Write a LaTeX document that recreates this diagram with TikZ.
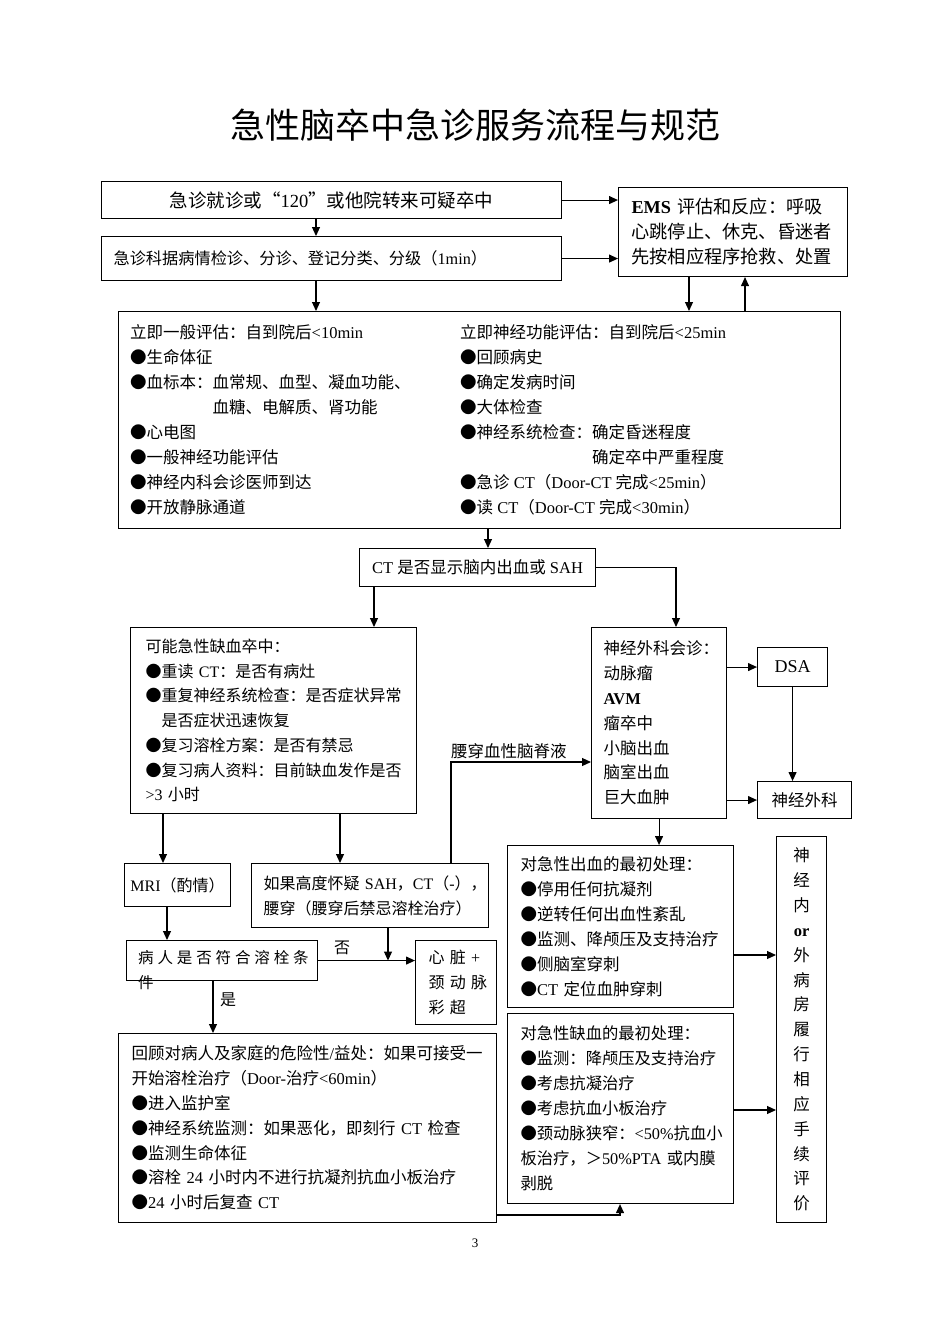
\documentclass[tikz,border=0pt]{standalone}
\usepackage{fontspec}
\setmainfont{Liberation Serif}
\newfontfamily\cjkfont{Noto Sans CJK SC}
\usetikzlibrary{arrows.meta}

% switch to the CJK font for Chinese characters and back for Latin ones
\XeTeXinterchartokenstate=1
\chardef\cjkclass=7
\newcount\cjkcode
\def\setcjkrange#1#2{\cjkcode=#1\relax
  \loop\XeTeXcharclass\cjkcode=\cjkclass\relax
  \ifnum\cjkcode<#2\relax\advance\cjkcode by 1\relax\repeat}
\setcjkrange{"3000}{"303F}
\setcjkrange{"4E00}{"9FFF}
\setcjkrange{"FF00}{"FFEF}
\XeTeXcharclass"25CF=\cjkclass
\XeTeXcharclass"201C=\cjkclass
\XeTeXcharclass"201D=\cjkclass
\XeTeXinterchartoks 0 \cjkclass = {\cjkfont}
\XeTeXinterchartoks 4095 \cjkclass = {\cjkfont}
\XeTeXinterchartoks \cjkclass 0 = {\rmfamily}
\XeTeXinterchartoks \cjkclass 4095 = {\rmfamily}

\tikzset{
    box/.style={draw, line width=1.1pt, rectangle, inner sep=0pt, anchor=north west},
    note/.style={font=\fontsize{16.5}{25}\selectfont, align=left, inner sep=0pt},
    arr/.style={-{Triangle[length=9pt,width=8pt]}, line width=1.1pt}
}

\begin{document}
\begin{tikzpicture}[x=1pt, y=-1pt]
    \useasboundingbox (0,0) rectangle (950,1344);

    \node[font=\fontsize{35}{40}\selectfont] (title) at (475,125) {急性脑卒中急诊服务流程与规范};

    % top part
    \node[box, minimum width=460pt, minimum height=37pt, font=\fontsize{18.5}{22}\selectfont] (visit) at (101,181) {急诊就诊或“120”或他院转来可疑卒中};
    \node[box, note, text width=436pt, inner xsep=12pt, minimum height=44pt, font=\fontsize{16.2}{20}\selectfont] (triage) at (101,236) {急诊科据病情检诊、分诊、登记分类、分级（1min）};
    \node[box, note, text width=203pt, inner xsep=13pt, minimum height=89pt, font=\fontsize{18.2}{25}\selectfont] (ems) at (618,187) {\textbf{EMS}~评估和反应：呼吸\\心跳停止、休克、昏迷者\\先按相应程序抢救、处置};

    \node[box, minimum width=722pt, minimum height=217pt] (eval) at (118,311) {};
    \node[note, anchor=west] (evalL) at ([xshift=12pt]eval.west) {立即一般评估：自到院后<10min\\●生命体征\\●血标本：血常规、血型、凝血功能、\\\hspace*{5em}血糖、电解质、肾功能\\●心电图\\●一般神经功能评估\\●神经内科会诊医师到达\\●开放静脉通道};
    \node[note, anchor=west] (evalR) at ([xshift=342pt]eval.west) {立即神经功能评估：自到院后<25min\\●回顾病史\\●确定发病时间\\●大体检查\\●神经系统检查：确定昏迷程度\\\hspace*{8em}确定卒中严重程度\\●急诊~CT（\mbox{Door-CT}~完成<25min）\\●读~CT（\mbox{Door-CT}~完成<30min）};

    \node[box, minimum width=236pt, minimum height=38pt, font=\fontsize{16.5}{20}\selectfont] (ctq) at (359,548) {CT~是否显示脑内出血或~SAH};

    % middle part
    \node[box, note, text width=256pt, inner xsep=15pt, minimum height=186pt, font=\fontsize{16}{24.67}\selectfont] (isch) at (130,627) {可能急性缺血卒中：\\●重读~CT：是否有病灶\\●重复神经系统检查：是否症状异常\\\hspace*{1em}是否症状迅速恢复\\●复习溶栓方案：是否有禁忌\\●复习病人资料：目前缺血发作是否\\>3~小时};
    \node[box, note, text width=111pt, inner xsep=12pt, minimum height=191pt, font=\fontsize{16.5}{24.8}\selectfont] (neuro) at (591,627) {神经外科会诊：\\动脉瘤\\\textbf{AVM}\\瘤卒中\\小脑出血\\脑室出血\\巨大血肿};
    \node[box, minimum width=70pt, minimum height=39pt, font=\fontsize{18}{22}\selectfont] (dsa) at (757,647) {DSA};
    \node[box, minimum width=94pt, minimum height=37pt, font=\fontsize{16.5}{20}\selectfont] (nsurg) at (757,781) {神经外科};

    \coordinate (lp) at (451,762);
    \node[note, anchor=south west] (lplabel) at ([yshift=3pt]lp) {腰穿血性脑脊液};

    % lower part
    \node[box, minimum width=106pt, minimum height=43pt, font=\fontsize{16}{18}\selectfont] (mri) at (124,863) {MRI（酌情）};
    \node[box, note, text width=213pt, inner xsep=12pt, minimum height=64pt, font=\fontsize{16}{25}\selectfont] (sah) at (251,863) {\mbox{如果高度怀疑~SAH，CT（-），}\\腰穿（腰穿后禁忌溶栓治疗）};
    \node[box, minimum width=191pt, minimum height=40pt] (elig) at (126,940) {};
    \node[note, anchor=north west, font=\fontsize{15.5}{25}\selectfont] (eligtxt) at ([xshift=12pt, yshift=-10pt]elig.north west) {病 人 是 否 符 合 溶 栓 条\\件};
    \node[box, note, text width=55pt, inner xsep=13pt, minimum height=84pt, font=\fontsize{16}{25}\selectfont] (heart) at (415,940) {心~脏~+\\颈~动~脉\\彩~超};
    \node[note, font=\fontsize{16}{20}\selectfont] (no) at (342,948) {否};
    \node[note, font=\fontsize{16}{20}\selectfont] (yes) at (228,1000) {是};

    \node[box, note, text width=352pt, inner xsep=13pt, minimum height=189pt, font=\fontsize{16.5}{24.8}\selectfont] (thromb) at (118,1033) {回顾对病人及家庭的危险性/益处：如果可接受一\\开始溶栓治疗（\mbox{Door-治疗}<60min）\\●进入监护室\\●神经系统监测：如果恶化，即刻行~CT~检查\\●监测生命体征\\●溶栓~24~小时内不进行抗凝剂抗血小板治疗\\●24~小时后复查~CT};

    \node[box, note, text width=200pt, inner xsep=13pt, minimum height=162pt] (hem) at (507,845) {对急性出血的最初处理：\\●停用任何抗凝剂\\●逆转任何出血性紊乱\\●监测、降颅压及支持治疗\\●侧脑室穿刺\\●CT~定位血肿穿刺};
    \node[box, note, text width=200pt, inner xsep=13pt, minimum height=190pt, font=\fontsize{16.3}{25}\selectfont] (ischt) at (507,1013) {对急性缺血的最初处理：\\●监测：降颅压及支持治疗\\●考虑抗凝治疗\\●考虑抗血小板治疗\\●颈动脉狭窄：<50\%抗血小\\板治疗，＞50\%PTA~或内膜\\剥脱};

    \node[box, minimum width=50pt, minimum height=386pt, align=center, font=\fontsize{16.5}{24.86}\selectfont] (vert) at (776,836) {神\\经\\内\\\textbf{or}\\外\\病\\房\\履\\行\\相\\应\\手\\续\\评\\价};

    \node[font=\fontsize{13}{15}\selectfont] (pagenum) at (475,1243) {3};

    % connectors
    \draw[arr] (visit.south -| 316,0) -- (triage.north -| 316,0);
    \draw[arr] (triage.south -| 316,0) -- (eval.north -| 316,0);
    \draw[arr] (visit.east) -- (visit.east -| ems.west);
    \draw[arr] (triage.east) -- (triage.east -| ems.west);
    \draw[arr] (ems.south -| 689,0) -- (eval.north -| 689,0);
    \draw[arr] (eval.north -| 745,0) -- (ems.south -| 745,0);
    \draw[arr] (eval.south -| 488,0) -- (ctq.north -| 488,0);
    \draw[arr] (ctq.south -| 374,0) -- (isch.north -| 374,0);
    \draw[arr] (ctq.east) -| (neuro.north -| 676,0);
    \draw[arr] (neuro.east |- dsa.west) -- (dsa.west);
    \draw[arr] (dsa.south) -- (dsa.south |- nsurg.north);
    \draw[arr] (neuro.east |- nsurg.west) -- (nsurg.west);
    \draw[arr] (neuro.south) -- (neuro.south |- hem.north);
    \draw[arr] (isch.south -| 163,0) -- (mri.north -| 163,0);
    \draw[arr] (isch.south -| 340,0) -- (sah.north -| 340,0);
    \draw[arr] (mri.south -| 167,0) -- (elig.north -| 167,0);
    \draw[arr] (sah.north -| lp) |- (neuro.west |- lp);
    \draw[arr] (sah.south -| 388,0) -- (elig.east -| 388,0);
    \draw[arr] (elig.east) -- (elig.east -| heart.west);
    \draw[arr] (elig.south -| 213,0) -- (thromb.north -| 213,0);
    \draw[arr] (thromb.east |- 0,1215) -| (ischt.south -| 620,0);
    \draw[arr] (hem.east |- 0,955) -- (vert.west |- 0,955);
    \draw[arr] (ischt.east |- 0,1110) -- (vert.west |- 0,1110);
\end{tikzpicture}
\end{document}
